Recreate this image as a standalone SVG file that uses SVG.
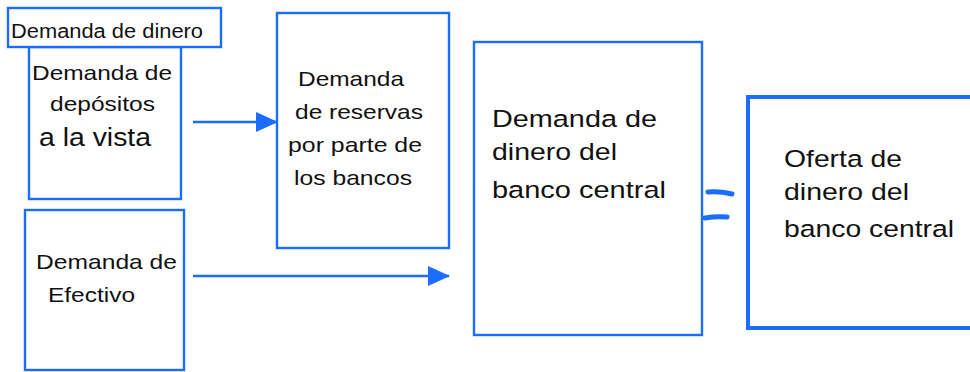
<svg xmlns="http://www.w3.org/2000/svg" width="970" height="372" viewBox="0 0 970 372">
<style>
.box{fill:#fff;stroke:#1a6dff;stroke-width:2.4}
.thick{stroke-width:4}
text{font-family:"Liberation Sans",Arial,sans-serif;fill:#111}
.conn{stroke:#1a6dff;stroke-width:2.6;fill:none}
.eq{stroke:#1a6dff;stroke-width:5;stroke-linecap:round;fill:none}
</style>
<defs>
<marker id="ah" markerWidth="22" markerHeight="20" refX="21" refY="10" orient="auto" markerUnits="userSpaceOnUse">
<path d="M0,0 L22,10 L0,20 Z" fill="#1a6dff"/>
</marker>
</defs>
<rect width="970" height="372" fill="#fff"/>
<g id="deposits">
<rect class="box" x="29" y="47" width="152" height="152"/>
<text x="32" y="80" font-size="21" textLength="140" lengthAdjust="spacingAndGlyphs">Demanda de</text>
<text x="50" y="111" font-size="21" textLength="105" lengthAdjust="spacingAndGlyphs">depósitos</text>
<text x="39" y="146" font-size="25" textLength="112" lengthAdjust="spacingAndGlyphs">a la vista</text>
</g>
<g id="money-demand">
<rect class="box" x="8" y="8" width="213" height="39"/>
<text x="11" y="38" font-size="20" textLength="192" lengthAdjust="spacingAndGlyphs">Demanda de dinero</text>
</g>
<g id="cash">
<rect class="box" x="25" y="210" width="159" height="160"/>
<text x="36" y="269" font-size="21" textLength="141" lengthAdjust="spacingAndGlyphs">Demanda de</text>
<text x="48" y="302" font-size="21" textLength="87" lengthAdjust="spacingAndGlyphs">Efectivo</text>
</g>
<g id="reserves">
<rect class="box" x="277" y="13" width="172" height="235"/>
<text x="298" y="86" font-size="21" textLength="106" lengthAdjust="spacingAndGlyphs">Demanda</text>
<text x="295" y="119" font-size="21" textLength="128" lengthAdjust="spacingAndGlyphs">de reservas</text>
<text x="288" y="152" font-size="21" textLength="134" lengthAdjust="spacingAndGlyphs">por parte de</text>
<text x="294" y="185" font-size="21" textLength="118" lengthAdjust="spacingAndGlyphs">los bancos</text>
</g>
<g id="cb-demand">
<rect class="box" x="474" y="42" width="228" height="293"/>
<text x="492" y="127" font-size="24.5" textLength="165" lengthAdjust="spacingAndGlyphs">Demanda de</text>
<text x="492" y="160" font-size="24.5" textLength="125" lengthAdjust="spacingAndGlyphs">dinero del</text>
<text x="492" y="198" font-size="24.5" textLength="174" lengthAdjust="spacingAndGlyphs">banco central</text>
</g>
<g id="cb-supply">
<rect class="box thick" x="748" y="97" width="240" height="231"/>
<text x="784" y="167" font-size="24.5" textLength="118" lengthAdjust="spacingAndGlyphs">Oferta de</text>
<text x="784" y="200" font-size="24.5" textLength="125" lengthAdjust="spacingAndGlyphs">dinero del</text>
<text x="784" y="237" font-size="24.5" textLength="170" lengthAdjust="spacingAndGlyphs">banco central</text>
</g>
<g id="connectors">
<line class="conn" x1="193" y1="122" x2="277" y2="122" marker-end="url(#ah)"/>
<line class="conn" x1="193" y1="276" x2="449" y2="276" marker-end="url(#ah)"/>
<path class="eq" d="M708,192 Q720,191 732,194"/>
<path class="eq" d="M705,218 Q716,216 727,217"/>
</g>
</svg>
